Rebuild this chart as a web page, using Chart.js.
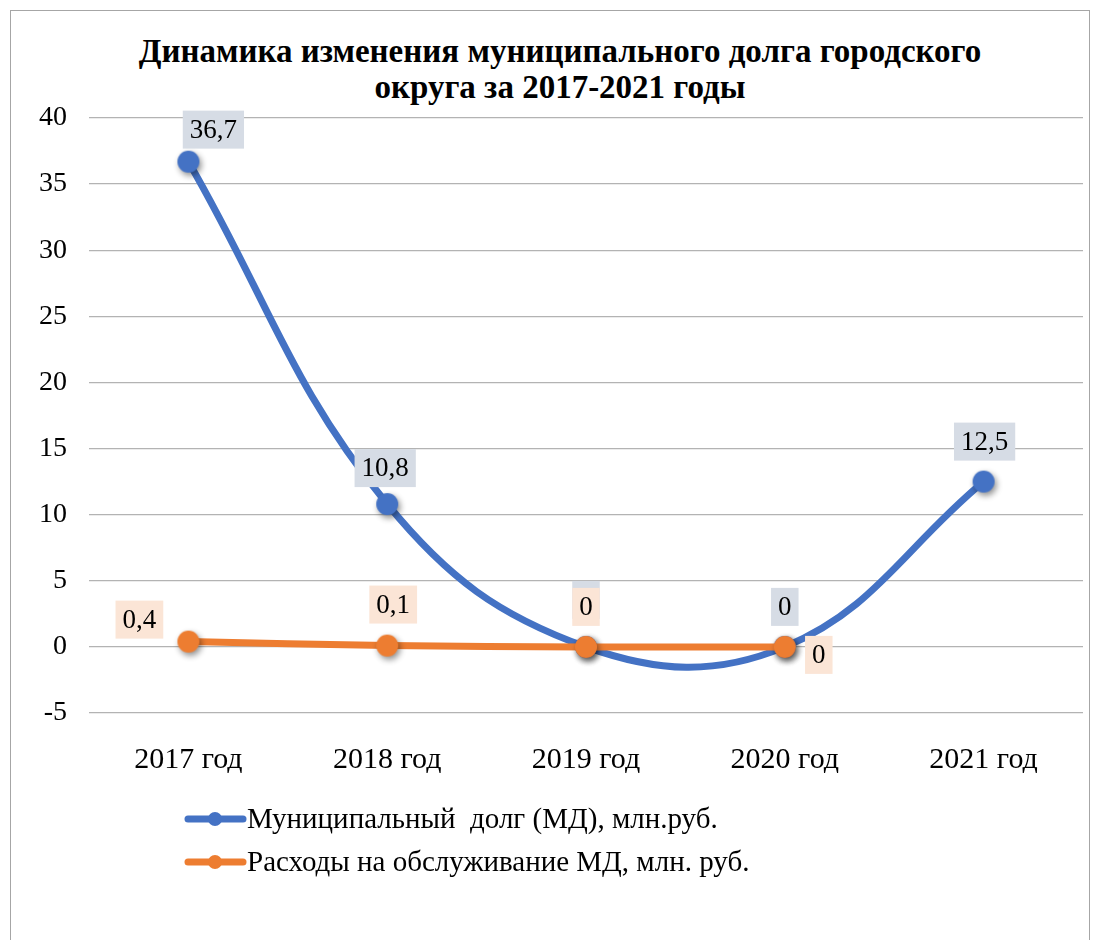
<!DOCTYPE html>
<html>
<head>
<meta charset="utf-8">
<script src="https://cdn.jsdelivr.net/npm/chart.js@4"></script>
<style>
  html, body { margin: 0; padding: 0; background: #fff; }
  body { width: 1094px; height: 940px; position: relative; overflow: hidden; }
  #frame {
    position: absolute; left: 10px; top: 10px; width: 1080px; height: 960px;
    border: 1px solid #a6a6a6; box-sizing: border-box;
  }
  #title {
    position: absolute; left: 0; top: 33px; width: 1120px; text-align: center;
    font: bold 33px "Liberation Serif", "Times New Roman", serif; line-height: 36px; color: #000;
  }
  #wrap { position: absolute; left: 0; top: 0; width: 1094px; height: 940px; }
</style>
</head>
<body>
<div id="frame"></div>
<div id="title">Динамика изменения муниципального долга городского<br>округа за 2017-2021 годы</div>
<div id="wrap"><canvas id="chart"></canvas></div>
<script>
  // данные с графика
  const years = ["2017 год", "2018 год", "2019 год", "2020 год", "2021 год"];
  const debtValues = [36.7, 10.8, 0, 0, 12.5];
  const costValues = [0.4, 0.1, 0, 0, null];
  const yTicks = [-5, 0, 5, 10, 15, 20, 25, 30, 35, 40];

  const debtName = "Муниципальный  долг (МД), млн.руб.";
  const costName = "Расходы на обслуживание МД, млн. руб.";

  const BLUE = "#4472c4";
  const ORANGE = "#ed7d31";
  const FONT = '"Liberation Serif", "Times New Roman", serif';

  // смещения подписей относительно точки (px)
  const labelStyle = [
    { bg: "#d6dce5", off: [[25, -32], [-2, -36], [0, -47], [0, -40], [1, -40]] },
    { bg: "#fbe5d6", off: [[-49, -22], [6, -41], [0, -40], [34, 8], null] },
  ];

  const fmt = (v) => String(v).replace(".", ",");

  // маркер с тенью, как в Excel
  function markerImg(color) {
    const c = document.createElement("canvas");
    c.width = 44;
    c.height = 44;
    const g = c.getContext("2d");
    g.shadowColor = "rgba(0,0,0,0.45)";
    g.shadowBlur = 6;
    g.shadowOffsetX = 2;
    g.shadowOffsetY = 3;
    g.fillStyle = color;
    g.beginPath();
    g.arc(22, 22, 11, 0, Math.PI * 2);
    g.fill();
    return c;
  }

  const dataLabels = {
    id: "dataLabels",
    afterDatasetsDraw(chart) {
      const ctx = chart.ctx;
      ctx.save();
      ctx.font = "27px " + FONT;
      ctx.textAlign = "center";
      ctx.textBaseline = "middle";
      chart.data.datasets.forEach((ds, di) => {
        const meta = chart.getDatasetMeta(di);
        const st = labelStyle[di];
        meta.data.forEach((pt, i) => {
          const v = ds.data[i];
          if (v === null || !st.off[i]) return;
          const txt = fmt(v);
          const x = pt.x + st.off[i][0];
          const y = pt.y + st.off[i][1];
          const w = ctx.measureText(txt).width + 14;
          const h = 38;
          ctx.fillStyle = st.bg;
          ctx.fillRect(x - w / 2, y - h / 2, w, h);
          ctx.fillStyle = "#000";
          ctx.fillText(txt, x, y + 1);
        });
      });
      ctx.restore();
    },
  };

  const legendRows = {
    id: "legendRows",
    afterDraw(chart) {
      const ctx = chart.ctx;
      ctx.save();
      const items = [
        { color: BLUE, text: debtName, y: 819 },
        { color: ORANGE, text: costName, y: 862 },
      ];
      items.forEach((it) => {
        ctx.strokeStyle = it.color;
        ctx.lineWidth = 7;
        ctx.lineCap = "round";
        ctx.beginPath();
        ctx.moveTo(188, it.y);
        ctx.lineTo(243, it.y);
        ctx.stroke();
        ctx.fillStyle = it.color;
        ctx.beginPath();
        ctx.arc(215, it.y, 7, 0, Math.PI * 2);
        ctx.fill();
        ctx.fillStyle = "#000";
        ctx.font = "29px " + FONT;
        ctx.textBaseline = "middle";
        ctx.textAlign = "left";
        ctx.fillText(it.text, 247, it.y + 1);
      });
      ctx.restore();
    },
  };

  function draw() {
    new Chart(document.getElementById("chart"), {
      type: "line",
      data: {
        labels: years,
        datasets: [
          {
            label: debtName,
            data: debtValues,
            borderColor: BLUE,
            backgroundColor: BLUE,
            borderWidth: 7,
            pointStyle: markerImg(BLUE),
            pointRadius: 11,
            pointBorderWidth: 0,
            tension: 0.4,
            order: 1,
          },
          {
            label: costName,
            data: costValues,
            borderColor: ORANGE,
            backgroundColor: ORANGE,
            borderWidth: 7,
            pointStyle: markerImg(ORANGE),
            pointRadius: 11,
            pointBorderWidth: 0,
            tension: 0.4,
            order: 0,
          },
        ],
      },
      options: {
        responsive: true,
        maintainAspectRatio: false,
        animation: false,
        layout: { padding: { left: 10, right: 9, top: 118, bottom: 167 } },
        plugins: {
          legend: { display: false },
          title: { display: false },
          tooltip: { enabled: false },
        },
        scales: {
          x: {
            offset: true,
            grid: { display: false, offset: true },
            border: { display: false },
            ticks: { color: "#000", font: { family: FONT, size: 30 }, padding: 21 },
            afterFit: (s) => { s.height = 60; },
          },
          y: {
            min: -5,
            max: 40,
            afterBuildTicks: (s) => { s.ticks = yTicks.map((v) => ({ value: v })); },
            grid: { color: "#b3b3b3", lineWidth: 1.3, drawTicks: false },
            border: { display: false },
            ticks: { color: "#000", font: { family: FONT, size: 28 }, padding: 22 },
            afterFit: (s) => { s.width = 79; },
          },
        },
      },
      plugins: [dataLabels, legendRows],
    });
  }

  if (document.fonts && document.fonts.load) {
    Promise.all([
      document.fonts.load('28px "Liberation Serif"'),
      document.fonts.load('bold 28px "Liberation Serif"'),
    ]).then(draw, draw);
  } else {
    draw();
  }
</script>
</body>
</html>
